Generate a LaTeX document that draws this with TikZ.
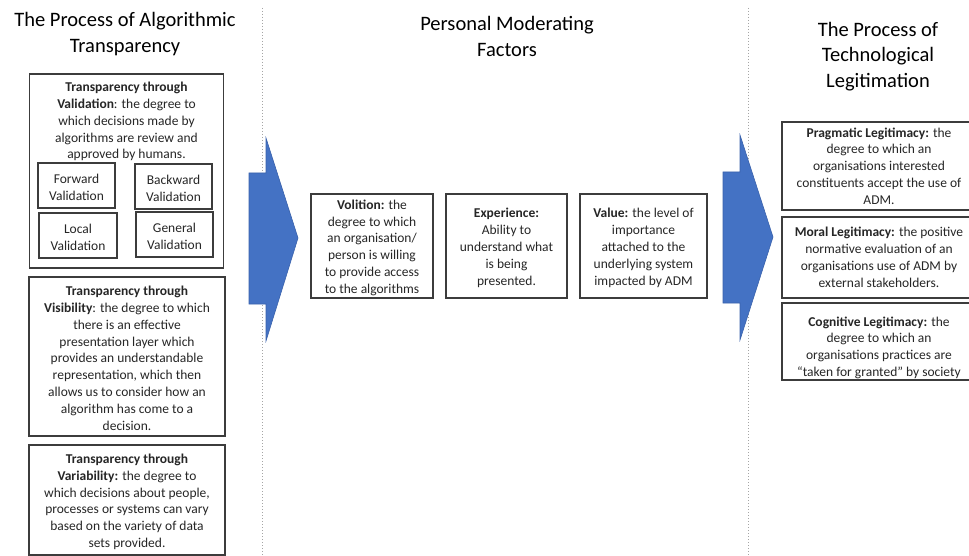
\documentclass[tikz,border=0pt]{standalone}
\usepackage{fontspec}
\setmainfont{Carlito}
\usetikzlibrary{calc}
\definecolor{ArrowBlue}{RGB}{68,114,196}
\definecolor{ArrowEdge}{RGB}{58,98,172}
\definecolor{BoxLine}{RGB}{60,60,60}
\definecolor{TextGrey}{RGB}{38,38,38}
\definecolor{DotGrey}{RGB}{165,165,165}
\newcommand{\toppad}[1]{\rule{0pt}{#1}}

\begin{document}
\begin{tikzpicture}[x=1pt, y=-1pt,
		box/.style={draw=BoxLine, line width=1.3pt, align=center, text=TextGrey, inner sep=0pt, font=\fontsize{13.5}{16.8}\selectfont},
		boxtext/.style={align=center, text=TextGrey, inner sep=0pt, font=\fontsize{13.5}{16.8}\selectfont},
		title/.style={align=center, inner sep=0pt, font=\fontsize{20.5}{25.5}\selectfont},
		divider/.style={draw=DotGrey, dotted, line width=1pt},
		flow/.style={fill=ArrowBlue, draw=ArrowEdge, line width=0.6pt}]
	\useasboundingbox (0,0) rectangle (969,556);
	\clip (0,0) rectangle (969,556);
	\fill[white] (0,0) rectangle (969,556);

	\coordinate (d1top) at (262,8);
	\coordinate (d1bot) at (262,556);
	\coordinate (d2top) at (748,8);
	\coordinate (d2bot) at (748,556);
	\draw[divider] (d1top) -- (d1bot);
	\draw[divider] (d2top) -- (d2bot);

	\node[title] (algtitle) at (125,34) {The Process of Algorithmic\\Transparency};
	\node[title] (modtitle) at (507,36.5) {Personal Moderating\\Factors};
	\node[title] (legtitle) at (878,56.5) {The Process of\\Technological\\Legitimation};

	\node[box, minimum width=194, minimum height=194] (valbox) at (126.5,171) {};
	\node[boxtext, anchor=north] (valtxt) at (126.5,82) {\textbf{Transparency through}\\\textbf{Validation}: the degree to\\which decisions made by\\algorithms are review and\\approved by humans.};
	\node[box, minimum width=77, minimum height=45] (fwd) at (76.5,185.5) {\toppad{13pt}Forward\\Validation};
	\node[box, minimum width=77, minimum height=45] (bwd) at (173.5,186.5) {\toppad{13pt}Backward\\Validation};
	\node[box, minimum width=78, minimum height=45] (loc) at (78,235.5) {\toppad{13pt}Local\\Validation};
	\node[box, minimum width=77, minimum height=45] (gen) at (174.5,234.5) {\toppad{13pt}General\\Validation};

	\node[box, minimum width=196, minimum height=159] (vis) at (127,356.5) {\toppad{13pt}\textbf{Transparency through}\\\textbf{Visibility}: the degree to which\\there is an effective\\presentation layer which\\provides an understandable\\representation, which then\\allows us to consider how an\\algorithm has come to a\\decision.};
	\node[box, minimum width=196, minimum height=110] (var) at (127,500) {\toppad{13pt}\textbf{Transparency through}\\\textbf{Variability:} the degree to\\which decisions about people,\\processes or systems can vary\\based on the variety of data\\sets provided.};

	\node[box, minimum width=122, minimum height=104] (vol) at (372,246) {\toppad{13pt}\textbf{Volition:} the\\degree to which\\an organisation/\\person is willing\\to provide access\\to the algorithms};
	\node[box, minimum width=121, minimum height=104] (exp) at (506.5,246) {\toppad{13pt}\textbf{Experience:}\\Ability to\\understand what\\is being\\presented.};
	\node[box, minimum width=127, minimum height=104] (val) at (643.5,246) {\toppad{13pt}\textbf{Value:} the level of\\importance\\attached to the\\underlying system\\impacted by ADM};

	\node[box, minimum width=194, minimum height=88] (prag) at (879,166) {\textbf{Pragmatic Legitimacy:} the\\degree to which an\\organisations interested\\constituents accept the use of\\ADM.};
	\node[box, minimum width=194, minimum height=81] (moral) at (879,257.5) {\textbf{Moral Legitimacy:} the positive\\normative evaluation of an\\organisations use of ADM by\\external stakeholders.};
	\node[box, minimum width=194, minimum height=77] (cogn) at (879,341.5) {\toppad{22pt}\textbf{Cognitive Legitimacy:} the\\degree to which an\\organisations practices are\\“taken for granted” by society};

	\draw[flow] (249,173) -- (266,173) -- (266,138) -- (298,238) -- (266,341) -- (266,304) -- (249,304) -- cycle;
	\draw[flow] (723,172) -- (740,172) -- (740,135) -- (773,237) -- (740,340) -- (740,303) -- (723,303) -- cycle;
\end{tikzpicture}
\end{document}
